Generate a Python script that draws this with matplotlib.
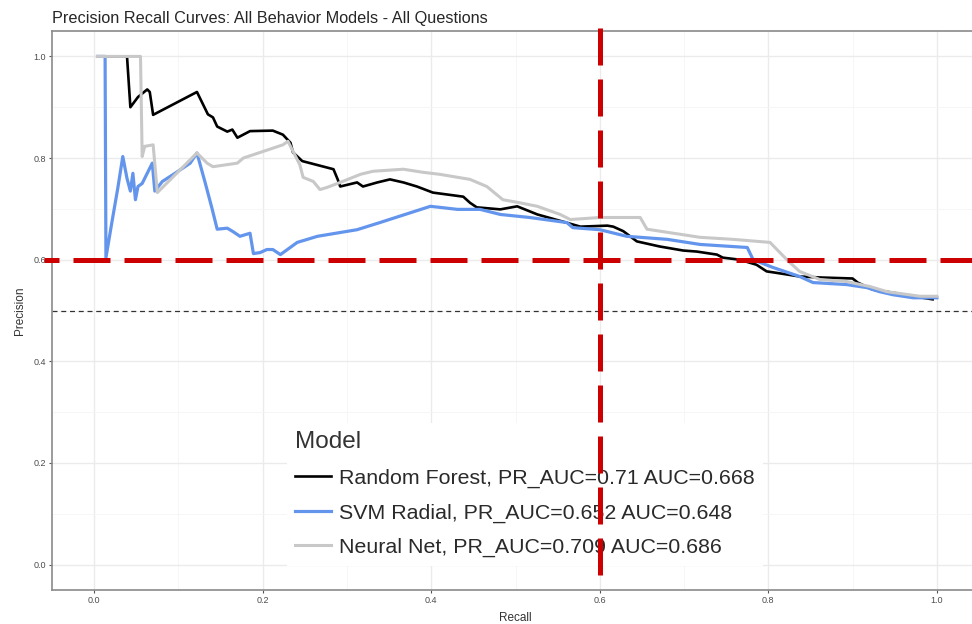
import matplotlib
matplotlib.use('Agg')
import matplotlib.pyplot as plt
import numpy as np

# Curve points: (recall, precision)
rf_points = [(0.004, 1.0), (0.039, 1.0), (0.043, 0.90), (0.052, 0.92), (0.063, 0.935),
             (0.066, 0.93), (0.070, 0.885), (0.122, 0.93), (0.135, 0.886), (0.141, 0.88),
             (0.146, 0.862), (0.158, 0.852), (0.164, 0.856), (0.170, 0.84), (0.185, 0.853),
             (0.212, 0.854), (0.224, 0.846), (0.233, 0.83), (0.236, 0.811), (0.247, 0.794),
             (0.284, 0.778), (0.289, 0.758), (0.292, 0.744), (0.312, 0.752), (0.319, 0.744),
             (0.336, 0.752), (0.351, 0.758), (0.367, 0.752), (0.383, 0.744), (0.402, 0.732),
             (0.438, 0.724), (0.446, 0.712), (0.454, 0.703), (0.482, 0.699), (0.502, 0.705),
             (0.526, 0.689), (0.556, 0.675), (0.577, 0.665), (0.609, 0.667), (0.616, 0.665),
             (0.628, 0.656), (0.644, 0.636), (0.671, 0.626), (0.699, 0.618), (0.715, 0.616),
             (0.739, 0.61), (0.746, 0.604), (0.766, 0.600), (0.786, 0.59), (0.798, 0.577),
             (0.810, 0.574), (0.837, 0.567), (0.861, 0.565), (0.900, 0.563), (0.906, 0.555),
             (0.924, 0.541), (0.948, 0.535), (0.972, 0.528), (0.995, 0.522)]

svm_points = [(0.004, 1.0), (0.013, 1.0), (0.014, 0.604), (0.021, 0.673), (0.028, 0.74),
              (0.034, 0.803), (0.039, 0.76), (0.043, 0.735), (0.046, 0.77), (0.049, 0.718),
              (0.052, 0.744), (0.057, 0.75), (0.069, 0.79), (0.072, 0.735), (0.081, 0.754),
              (0.096, 0.77), (0.114, 0.79), (0.122, 0.81), (0.132, 0.75), (0.140, 0.70),
              (0.146, 0.66), (0.158, 0.662), (0.165, 0.655), (0.173, 0.646), (0.185, 0.652),
              (0.189, 0.612), (0.197, 0.614), (0.205, 0.62), (0.212, 0.62), (0.221, 0.61),
              (0.241, 0.634), (0.265, 0.646), (0.312, 0.659), (0.339, 0.673), (0.399, 0.705),
              (0.410, 0.703), (0.431, 0.699), (0.458, 0.699), (0.482, 0.689), (0.517, 0.683),
              (0.561, 0.673), (0.568, 0.663), (0.600, 0.659), (0.632, 0.646), (0.680, 0.64),
              (0.719, 0.63), (0.775, 0.624), (0.782, 0.60), (0.805, 0.585), (0.837, 0.567),
              (0.853, 0.555), (0.893, 0.551), (0.917, 0.545), (0.932, 0.537), (0.948, 0.531),
              (0.972, 0.525), (1.0, 0.525)]

nn_points = [(0.004, 1.0), (0.055, 1.0), (0.057, 0.803), (0.060, 0.823), (0.070, 0.826),
             (0.075, 0.732), (0.122, 0.81), (0.134, 0.79), (0.141, 0.783), (0.170, 0.79),
             (0.177, 0.80), (0.224, 0.826), (0.230, 0.833), (0.244, 0.787), (0.248, 0.762),
             (0.260, 0.754), (0.268, 0.738), (0.276, 0.742), (0.292, 0.752), (0.316, 0.768),
             (0.331, 0.774), (0.367, 0.778), (0.390, 0.772), (0.410, 0.768), (0.446, 0.758),
             (0.466, 0.744), (0.485, 0.718), (0.505, 0.712), (0.526, 0.705), (0.553, 0.689),
             (0.565, 0.679), (0.600, 0.683), (0.648, 0.683), (0.656, 0.66), (0.719, 0.644),
             (0.758, 0.64), (0.802, 0.634), (0.822, 0.60), (0.837, 0.577), (0.861, 0.561),
             (0.893, 0.557), (0.921, 0.547), (0.941, 0.537), (0.980, 0.528), (1.0, 0.528)]

model_labels = ["Random Forest, PR_AUC=0.71 AUC=0.668",
                "SVM Radial, PR_AUC=0.652 AUC=0.648",
                "Neural Net, PR_AUC=0.709 AUC=0.686"]
model_colours = ["#000000", "#6495ED", "#C8C8C8"]
model_widths = [1.9, 2.3, 2.2]

baseline = 0.5       # dashed reference line
cut_recall = 0.6     # red marker lines
cut_precision = 0.6
ticks = [0.0, 0.2, 0.4, 0.6, 0.8, 1.0]
minor_ticks = [0.1, 0.3, 0.5, 0.7, 0.9]

plt.rcParams['font.family'] = ['Liberation Sans', 'DejaVu Sans']

fig = plt.figure(figsize=(9.72, 6.24), dpi=100)
W, H = 972, 624
# panel runs past the right edge, like the cropped reference
ax = fig.add_axes([52 / W, 1 - 590 / H, 927 / W, 559 / H])
ax.set_xlim(-0.05, 1.05)
ax.set_ylim(-0.05, 1.05)

ax.set_xticks(ticks)
ax.set_yticks(ticks)
ax.set_xticks(minor_ticks, minor=True)
ax.set_yticks(minor_ticks, minor=True)
ax.grid(True, which='major', color='#EBEBEB', lw=1.0)
ax.grid(True, which='minor', color='#F5F5F5', lw=0.6)
ax.set_axisbelow(True)
ax.tick_params(which='major', direction='out', length=2.5, width=0.8, color='#555555',
               labelsize=6.5, labelcolor='#4D4D4D', pad=2)
ax.tick_params(which='minor', length=0)
for s in ax.spines.values():
    s.set_color('#8A8A8A')
    s.set_linewidth(1.2)

for pts, lab, col, w in zip([rf_points, svm_points, nn_points], model_labels,
                            model_colours, model_widths):
    arr = np.array(pts)
    ax.plot(arr[:, 0], arr[:, 1], color=col, lw=w, label=lab, zorder=3)

ax.axhline(baseline, color='#333333', lw=0.9, ls=(0, (4, 3)), zorder=2)

ax.set_xlabel('Recall', fontsize=8.5, color='#333333', labelpad=5)
ax.set_ylabel('Precision', fontsize=8.5, color='#333333', labelpad=5)
ax.set_title('Precision Recall Curves: All Behavior Models - All Questions', loc='left',
             fontsize=11.7, color='#262626', pad=6)

leg = ax.legend(loc='upper left', bbox_to_anchor=(276 / W, 1 - 412 / H),
                bbox_transform=fig.transFigure, fontsize=15.4, title='Model',
                title_fontsize=17.5, alignment='left', frameon=True, fancybox=False,
                framealpha=1.0, edgecolor='none', facecolor='white', borderpad=0.4,
                handlelength=1.65, handletextpad=0.4, labelspacing=0.72)
leg.get_title().set_color('#333333')
for t in leg.get_texts():
    t.set_color('#2A2A2A')
leg.set_zorder(5)

# red marker lines drawn over everything
red = '#CC0000'
ax.plot([-0.059, 1.06], [cut_precision, cut_precision], color=red, lw=3.6,
        ls=(4.4, (7.4, 2.8)), clip_on=False, zorder=10)
ax.plot([cut_recall, cut_recall], [1.055, -0.024], color=red, lw=3.6,
        ls=(0, (7.4, 2.8)), clip_on=False, zorder=10)

fig.savefig('out.png', dpi=100)
